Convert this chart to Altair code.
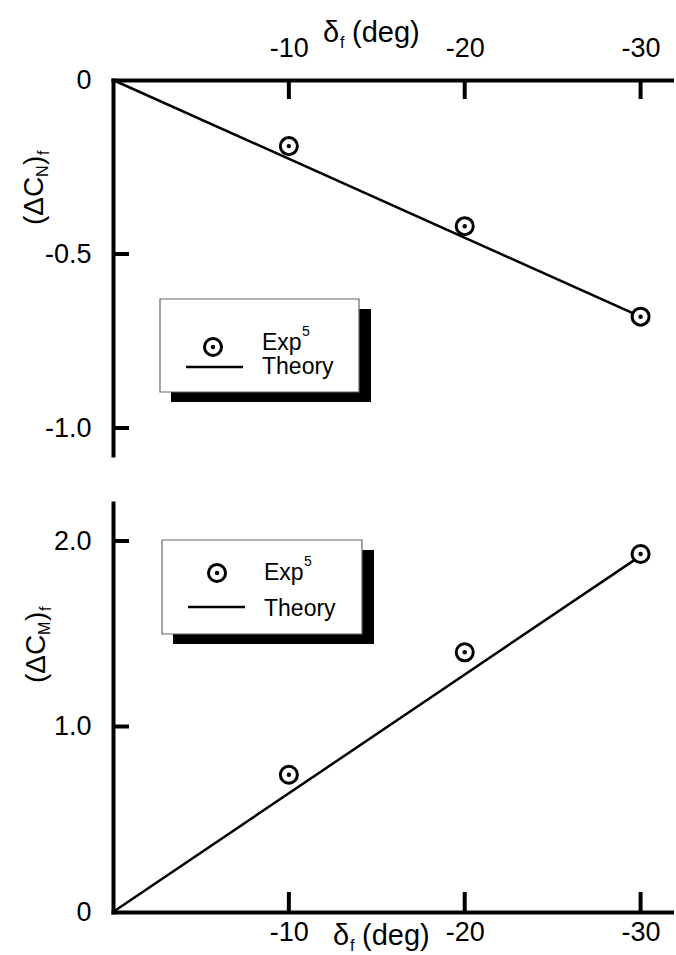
import altair as alt
import pandas as pd

FONT = "Liberation Sans"

# Flap deflection of the measured points (deg)
deflection = [-10, -20, -30]
# Measured normal-force and moment increments
exp_cn = [-0.19, -0.42, -0.68]
exp_cm = [0.74, 1.40, 1.93]
# Linear theory, end points
theory_deflection = [0, -30]
theory_cn = [0, -0.68]
theory_cm = [0, 1.92]

# Tick positions
x_ticks = [-10, -20, -30]
cn_ticks = [0, -0.5, -1.0]
cm_ticks = [0, 1.0, 2.0]

W = 561
H_TOP = 375
H_BOT = 409
X_DOMAIN = [0, -31.9]
CN_PX = 348.0          # pixels per unit of (ΔC_N)_f
CM_PX = 185.5          # pixels per unit of (ΔC_M)_f

one = pd.DataFrame({"k": [0]})


def txt(s, x, y, size, angle=None, align="left"):
    kw = dict(text=s, font=FONT, fontSize=size, align=align,
              baseline="alphabetic", color="black")
    if angle is not None:
        kw["angle"] = angle
    return alt.Chart(one).mark_text(**kw).encode(x=alt.value(x), y=alt.value(y))


def box(x1, x2, y1, y2, **kw):
    return alt.Chart(one).mark_rect(**kw).encode(
        x=alt.value(x1), x2=alt.value(x2), y=alt.value(y1), y2=alt.value(y2))


def hline(x1, x2, y, width):
    return alt.Chart(one).mark_rule(color="black", strokeWidth=width).encode(
        x=alt.value(x1), x2=alt.value(x2), y=alt.value(y))


def marker_at(x, y):
    ring = alt.Chart(one).mark_point(shape="circle", filled=True, fill="white",
                                     stroke="black", strokeWidth=3, size=290,
                                     opacity=1).encode(x=alt.value(x), y=alt.value(y))
    dot = alt.Chart(one).mark_point(shape="circle", filled=True, color="black",
                                    size=20, opacity=1).encode(x=alt.value(x), y=alt.value(y))
    return [ring, dot]


def legend(bx, by, bw, bh, mx, my, exp_base, th_base, line_y):
    layers = [
        box(bx + 11, bx + bw + 12, by + 10, by + bh + 10, fill="black"),
        box(bx, bx + bw, by, by + bh, fill="white", stroke="#666", strokeWidth=1.2),
    ]
    layers += marker_at(mx, my)
    layers += [
        txt("Exp", bx + 102, exp_base, 23),
        txt("5", bx + 142, exp_base - 14, 14),
        hline(bx + 26, bx + 83, line_y, 2.5),
        txt("Theory", bx + 102, th_base, 23),
    ]
    return layers


def y_title(sub, start, base_x, sub_w):
    # rotated "(ΔC_sub)_f", pieces stacked from bottom to top
    y = start
    parts = []
    parts.append(txt("(ΔC", base_x, y, 28, angle=270))
    y -= 48
    parts.append(txt(sub, base_x + 5, y, 16, angle=270))
    y -= sub_w
    parts.append(txt(")", base_x, y, 28, angle=270))
    y -= 10
    parts.append(txt("f", base_x + 6, y, 16, angle=270))
    return parts


def x_title(x, base):
    return [
        txt("δ", x, base, 29),
        txt("f", x + 17, base + 6, 16),
        txt("(deg)", x + 29, base, 29),
    ]


def axis_common(**kw):
    return alt.Axis(ticks=False, grid=False, domainWidth=4, domainColor="black",
                    domainCap="square", labelFont=FONT, labelFontSize=27,
                    labelColor="black", labelFlush=False, labelOverlap=False,
                    title=None, **kw)


y_label_expr = ("datum.value == 0 ? '0' : (datum.value < 0 ? '-' : '') + "
                "format(abs(datum.value), '.1f')")
x_label_expr = "'-' + abs(datum.value)"

# ---------- upper panel: normal force ----------
x_top = alt.X("d:Q", scale=alt.Scale(domain=X_DOMAIN, nice=False, zero=False),
              axis=axis_common(orient="top", values=x_ticks, labelExpr=x_label_expr,
                               labelBaseline="alphabetic", labelPadding=24))
y_top = alt.Y("v:Q", scale=alt.Scale(domain=[-H_TOP / CN_PX, 0], nice=False, zero=False),
              axis=axis_common(orient="left", values=cn_ticks, labelExpr=y_label_expr,
                               labelAlign="right", labelBaseline="middle", labelPadding=22))

theory_top_df = pd.DataFrame({"d": theory_deflection, "v": theory_cn})
exp_top_df = pd.DataFrame({"d": deflection, "v": exp_cn})
# inward ticks hanging 19 px below the upper axis, 4 px wide
half_w = 2 * abs(X_DOMAIN[1]) / W
top_tick_df = pd.DataFrame({
    "d": [t + half_w for t in x_ticks],
    "d2": [t - half_w for t in x_ticks],
    "v": [0.0] * 3,
    "v2": [-19 / CN_PX] * 3,
})

top_layers = [
    box(-113, -112, -80, -79, opacity=0),
    alt.Chart(theory_top_df).mark_line(color="black", strokeWidth=2.5).encode(x=x_top, y=y_top),
    alt.Chart(top_tick_df).mark_rect(color="black", opacity=1).encode(
        x=x_top, x2="d2:Q", y=y_top, y2="v2:Q"),
    alt.Chart(pd.DataFrame({"v": cn_ticks[1:]})).mark_rule(color="black", strokeWidth=4).encode(
        y=y_top, x=alt.value(0), x2=alt.value(16)),
    alt.Chart(exp_top_df).mark_point(shape="circle", filled=True, fill="white", stroke="black",
                                     strokeWidth=3, size=290, opacity=1).encode(x=x_top, y=y_top),
    alt.Chart(exp_top_df).mark_point(shape="circle", filled=True, color="black",
                                     size=20, opacity=1).encode(x=x_top, y=y_top),
]
top_layers += legend(47, 219, 199, 93, 100, 267, 270, 294, 287)
top_layers += y_title("N", 145, -70, 12)
top_layers += x_title(210, -38)

top = alt.layer(*top_layers).properties(width=W, height=H_TOP)

# ---------- lower panel: pitching moment ----------
x_bot = alt.X("d:Q", scale=alt.Scale(domain=X_DOMAIN, nice=False, zero=False),
              axis=axis_common(orient="bottom", values=x_ticks, labelExpr=x_label_expr,
                               labelBaseline="alphabetic", labelPadding=28))
y_bot = alt.Y("v:Q", scale=alt.Scale(domain=[0, H_BOT / CM_PX], nice=False, zero=False),
              axis=axis_common(orient="left", values=cm_ticks, labelExpr=y_label_expr,
                               labelAlign="right", labelBaseline="middle", labelPadding=22))

theory_bot_df = pd.DataFrame({"d": theory_deflection, "v": theory_cm})
exp_bot_df = pd.DataFrame({"d": deflection, "v": exp_cm})

bot_layers = [
    alt.Chart(theory_bot_df).mark_line(color="black", strokeWidth=2.5).encode(x=x_bot, y=y_bot),
    alt.Chart(pd.DataFrame({"d": x_ticks})).mark_rule(color="black", strokeWidth=4).encode(
        x=x_bot, y=alt.value(H_BOT), y2=alt.value(H_BOT - 20)),
    alt.Chart(pd.DataFrame({"v": cm_ticks[1:]})).mark_rule(color="black", strokeWidth=4).encode(
        y=y_bot, x=alt.value(0), x2=alt.value(16)),
    alt.Chart(exp_bot_df).mark_point(shape="circle", filled=True, fill="white", stroke="black",
                                     strokeWidth=3, size=290, opacity=1).encode(x=x_bot, y=y_bot),
    alt.Chart(exp_bot_df).mark_point(shape="circle", filled=True, color="black",
                                     size=20, opacity=1).encode(x=x_bot, y=y_bot),
]
bot_layers += legend(49, 37, 200, 94, 104, 70, 77, 113, 104)
bot_layers += y_title("M", 180, -68, 14)
bot_layers += x_title(220, H_BOT + 33)

bottom = alt.layer(*bot_layers).properties(width=W, height=H_BOT)

chart = alt.vconcat(top, bottom, spacing=48, bounds="flush",
                    padding={"left": 0, "top": 0, "right": 0, "bottom": 0},
                    background="white").configure_view(stroke=None)

chart.save("out.html", embed_options={"renderer": "svg", "actions": False})
